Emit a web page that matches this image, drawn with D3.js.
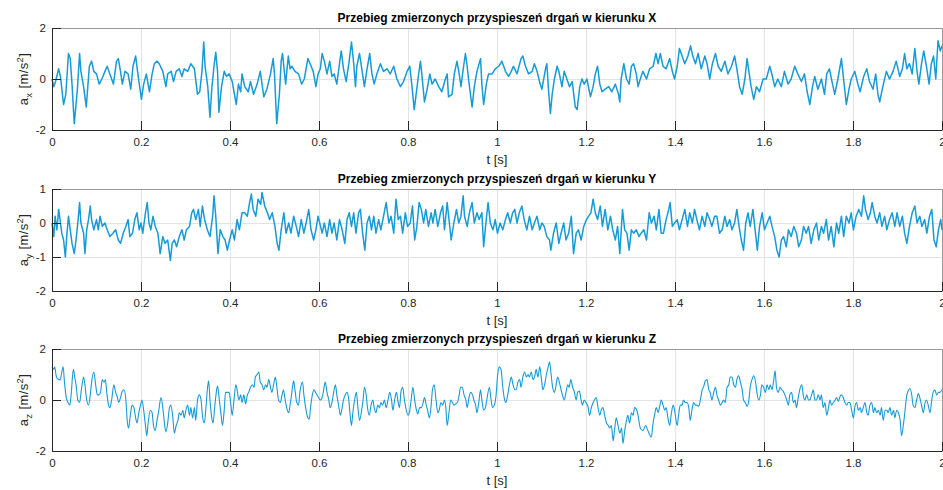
<!DOCTYPE html>
<html>
<head>
<meta charset="utf-8">
<script src="https://cdn.jsdelivr.net/npm/d3@7"></script>
<style>
  body { margin: 0; background: #fff; }
  svg { display: block; }
  text { font-family: "Liberation Sans", Arial, Helvetica, sans-serif; }
</style>
</head>
<body>
<svg id="chart" width="943" height="490"></svg>
<script>
// Measured vibration accelerations, [t in s, a in m/s^2]
const seriesX = [
[0,0.0],[0.004,-0.3],[0.008,-0.1],[0.015,0.4],[0.019,0.1],[0.026,-1.0],[0.031,-0.6],[0.037,1.0],[0.041,0.8],[0.045,-0.2],
[0.050,-1.75],[0.054,-1.0],[0.057,-0.4],[0.062,1.0],[0.065,0.3],[0.071,-0.3],[0.077,-1.1],[0.080,-0.4],[0.084,0.5],[0.089,0.7],
[0.094,0.3],[0.100,0.2],[0.106,-0.2],[0.112,0.0],[0.119,0.3],[0.124,0.5],[0.130,0.2],[0.138,-0.2],[0.145,0.7],[0.149,0.8],
[0.154,0.3],[0.158,-0.2],[0.164,0.3],[0.171,0.2],[0.177,-0.4],[0.182,0.5],[0.188,0.9],[0.193,0.2],[0.201,-0.8],[0.206,-0.2],
[0.212,0.2],[0.219,-0.5],[0.225,0.2],[0.230,0.6],[0.236,0.7],[0.241,0.6],[0.249,0.3],[0.256,-0.3],[0.260,0.2],[0.268,0.3],
[0.273,-0.1],[0.279,0.3],[0.286,0.4],[0.292,0.1],[0.297,0.4],[0.305,0.3],[0.312,0.6],[0.320,0.4],[0.327,-0.6],[0.332,-0.5],
[0.337,0.3],[0.341,1.45],[0.344,0.5],[0.350,-0.3],[0.355,-1.5],[0.359,-0.4],[0.364,0.5],[0.368,1.05],[0.372,0.3],[0.375,-1.3],
[0.381,-0.3],[0.387,0.3],[0.392,0.1],[0.398,0.2],[0.405,-0.1],[0.414,-1.0],[0.419,-0.2],[0.424,-0.5],[0.427,0.2],[0.433,-0.3],
[0.441,-0.5],[0.446,-0.1],[0.453,-0.6],[0.461,-0.2],[0.468,0.3],[0.476,-0.7],[0.483,-0.4],[0.491,0.2],[0.497,0.8],[0.500,0.2],
[0.505,-1.75],[0.511,-0.6],[0.515,0.7],[0.518,1.0],[0.522,0.3],[0.525,-0.2],[0.531,0.9],[0.535,0.4],[0.539,0.5],[0.546,0.3],
[0.554,0.2],[0.561,-0.2],[0.567,0.0],[0.575,0.8],[0.580,0.6],[0.587,0.3],[0.593,-0.3],[0.598,0.2],[0.603,0.4],[0.607,1.0],
[0.612,0.7],[0.618,0.2],[0.624,0.7],[0.629,0.1],[0.634,0.2],[0.640,-0.2],[0.646,0.6],[0.650,1.1],[0.655,0.4],[0.661,-0.1],
[0.667,0.6],[0.673,1.45],[0.678,0.6],[0.682,-0.3],[0.685,0.5],[0.691,1.0],[0.697,0.3],[0.702,-0.3],[0.708,0.4],[0.714,1.0],
[0.719,0.2],[0.724,-0.2],[0.730,0.2],[0.738,0.6],[0.745,0.3],[0.753,0.4],[0.760,0.2],[0.768,0.5],[0.775,0.0],[0.783,-0.3],
[0.790,-0.1],[0.798,0.3],[0.804,0.5],[0.809,-0.3],[0.814,-1.2],[0.819,-0.5],[0.824,0.2],[0.828,0.7],[0.831,0.2],[0.837,-0.9],
[0.843,-0.4],[0.849,0.2],[0.854,-0.2],[0.861,0.0],[0.869,-0.3],[0.876,-0.5],[0.884,0.0],[0.888,0.2],[0.891,-0.7],[0.899,-0.6],
[0.904,0.2],[0.910,0.7],[0.915,0.2],[0.919,-0.3],[0.925,0.5],[0.929,1.0],[0.933,0.5],[0.936,0.0],[0.944,-1.1],[0.949,-0.3],
[0.955,0.3],[0.963,0.8],[0.966,-0.2],[0.970,-1.0],[0.976,-0.2],[0.981,0.2],[0.989,0.2],[0.996,0.4],[1.004,0.5],[1.011,0.7],
[1.019,0.3],[1.026,0.1],[1.032,0.3],[1.037,0.5],[1.045,0.2],[1.054,0.8],[1.058,0.9],[1.064,0.5],[1.071,0.2],[1.079,0.3],
[1.084,0.6],[1.090,0.3],[1.097,-0.2],[1.101,-0.4],[1.109,0.4],[1.112,0.6],[1.116,-0.5],[1.120,-1.35],[1.124,-0.6],[1.129,0.0],
[1.135,0.5],[1.139,0.3],[1.146,-0.3],[1.151,0.3],[1.157,0.0],[1.163,-0.3],[1.169,-0.1],[1.176,-1.1],[1.180,-1.2],[1.186,-0.3],
[1.191,0.0],[1.196,-0.2],[1.202,0.0],[1.210,-0.7],[1.216,-0.3],[1.221,0.2],[1.226,0.5],[1.231,-0.2],[1.236,-0.5],[1.243,-0.4],
[1.251,-0.3],[1.258,-0.5],[1.266,-0.2],[1.273,-0.6],[1.276,-0.9],[1.279,0.0],[1.285,0.6],[1.291,0.0],[1.297,-0.2],[1.302,0.5],
[1.307,0.6],[1.313,0.2],[1.317,-0.3],[1.322,0.0],[1.328,0.3],[1.336,0.0],[1.343,0.4],[1.351,0.5],[1.357,1.0],[1.362,0.6],
[1.367,1.0],[1.373,0.5],[1.380,0.4],[1.388,0.8],[1.394,0.3],[1.399,0.0],[1.405,0.5],[1.410,1.2],[1.416,0.9],[1.422,0.6],
[1.429,0.9],[1.435,1.3],[1.440,0.9],[1.446,0.6],[1.452,1.0],[1.459,0.4],[1.467,0.9],[1.472,0.6],[1.478,0.0],[1.484,0.6],
[1.491,1.0],[1.497,0.5],[1.504,0.3],[1.512,0.7],[1.519,0.2],[1.527,0.5],[1.534,0.9],[1.539,0.4],[1.545,-0.3],[1.551,-0.6],
[1.557,0.0],[1.562,0.8],[1.566,0.3],[1.571,-0.3],[1.577,-0.8],[1.583,-0.3],[1.590,-0.5],[1.598,0.0],[1.605,0.0],[1.613,0.5],
[1.619,0.1],[1.624,-0.3],[1.631,0.0],[1.639,-0.3],[1.646,0.3],[1.654,-0.2],[1.661,0.0],[1.669,0.5],[1.676,0.2],[1.684,-0.1],
[1.691,0.2],[1.697,-0.5],[1.703,-1.0],[1.709,-0.3],[1.714,0.1],[1.721,-0.4],[1.729,0.0],[1.736,-0.6],[1.741,0.2],[1.747,0.4],
[1.754,-0.2],[1.759,-0.6],[1.766,0.0],[1.774,0.8],[1.777,0.3],[1.785,-1.0],[1.791,-0.4],[1.796,0.0],[1.804,0.3],[1.811,-0.2],
[1.816,-0.5],[1.824,0.1],[1.831,0.4],[1.837,-0.1],[1.845,-0.4],[1.851,0.2],[1.856,-0.6],[1.860,-0.9],[1.867,-0.3],[1.875,0.3],
[1.882,0.0],[1.890,0.3],[1.897,0.7],[1.905,0.1],[1.911,0.4],[1.916,1.0],[1.921,0.4],[1.927,0.6],[1.933,0.2],[1.939,1.2],
[1.944,0.3],[1.948,-0.2],[1.954,0.6],[1.959,1.1],[1.965,0.5],[1.971,-0.2],[1.976,0.6],[1.981,0.9],[1.986,0.0],[1.991,1.5],
[1.996,1.1],[2.000,1.3]
];

const seriesY = [
[0,0.0],[0.004,-0.4],[0.007,0.2],[0.011,-0.2],[0.015,0.4],[0.019,0.0],[0.022,-0.3],[0.026,-0.5],[0.030,-1.0],[0.033,-0.4],
[0.037,0.2],[0.041,-0.2],[0.045,-0.6],[0.050,-0.9],[0.054,-0.5],[0.058,0.0],[0.062,0.6],[0.065,0.0],[0.071,-0.3],[0.074,-0.9],
[0.078,-0.2],[0.082,0.1],[0.086,0.5],[0.089,0.1],[0.094,-0.2],[0.100,0.1],[0.104,-0.2],[0.108,0.2],[0.113,-0.1],[0.119,0.0],
[0.124,-0.2],[0.130,-0.4],[0.137,-0.3],[0.143,-0.2],[0.149,-0.5],[0.154,-0.6],[0.160,-0.3],[0.166,-0.1],[0.171,0.1],[0.175,-0.4],
[0.181,-0.3],[0.186,0.1],[0.191,0.3],[0.196,-0.2],[0.200,0.0],[0.204,-0.3],[0.210,0.3],[0.214,0.6],[0.218,0.0],[0.222,-0.2],
[0.227,0.2],[0.232,-0.1],[0.238,-0.3],[0.243,-0.9],[0.249,-0.4],[0.254,-0.6],[0.260,-0.5],[0.266,-1.1],[0.270,-0.6],[0.275,-0.5],
[0.280,-0.7],[0.286,-0.4],[0.292,-0.2],[0.297,-0.5],[0.302,-0.2],[0.309,-0.1],[0.314,0.3],[0.318,0.4],[0.323,0.1],[0.329,0.4],
[0.333,-0.1],[0.338,0.5],[0.343,0.1],[0.349,-0.2],[0.355,-0.4],[0.361,0.2],[0.364,0.8],[0.368,0.2],[0.373,-0.9],[0.378,-0.2],
[0.384,-0.4],[0.389,-0.5],[0.394,-0.8],[0.399,-0.5],[0.405,-0.2],[0.410,-0.5],[0.416,0.1],[0.421,-0.2],[0.427,0.3],[0.433,0.3],
[0.439,0.2],[0.444,0.6],[0.448,0.85],[0.452,0.4],[0.458,0.2],[0.463,0.7],[0.469,0.55],[0.472,0.9],[0.478,0.5],[0.484,0.3],
[0.489,0.1],[0.495,0.3],[0.501,-0.1],[0.506,-0.6],[0.510,-0.8],[0.515,-0.2],[0.521,0.3],[0.526,-0.3],[0.532,0.0],[0.537,-0.3],
[0.543,0.2],[0.549,-0.1],[0.554,-0.4],[0.560,0.1],[0.566,-0.3],[0.571,0.0],[0.577,0.4],[0.582,-0.2],[0.588,-0.5],[0.593,-0.2],
[0.598,0.2],[0.607,-0.3],[0.612,0.0],[0.618,-0.4],[0.624,0.1],[0.629,-0.3],[0.634,0.0],[0.640,-0.5],[0.646,0.1],[0.652,-0.2],
[0.658,-0.6],[0.663,0.1],[0.668,0.3],[0.673,-0.1],[0.678,0.3],[0.683,-0.3],[0.689,0.3],[0.693,0.4],[0.698,-0.3],[0.703,-0.8],
[0.708,0.0],[0.713,0.2],[0.718,-0.2],[0.723,0.2],[0.728,-0.3],[0.734,0.1],[0.739,-0.2],[0.745,0.2],[0.751,0.6],[0.757,0.0],
[0.762,0.2],[0.768,-0.3],[0.773,0.7],[0.778,0.1],[0.783,0.2],[0.788,-0.3],[0.794,0.3],[0.799,-0.1],[0.805,0.0],[0.810,0.5],
[0.815,-0.5],[0.820,-0.1],[0.825,0.6],[0.830,0.4],[0.835,0.0],[0.840,0.4],[0.846,-0.1],[0.852,0.3],[0.856,0.0],[0.861,0.4],
[0.867,-0.1],[0.873,0.3],[0.878,0.5],[0.882,-0.2],[0.888,0.6],[0.893,0.0],[0.897,-0.5],[0.903,0.0],[0.909,0.4],[0.914,0.0],
[0.919,0.2],[0.924,0.8],[0.927,0.2],[0.933,-0.1],[0.938,0.3],[0.944,0.6],[0.949,0.0],[0.955,0.3],[0.960,0.1],[0.966,0.3],
[0.970,-0.7],[0.975,0.0],[0.980,0.6],[0.985,0.0],[0.991,-0.2],[0.996,0.1],[1.001,-0.3],[1.007,0.0],[1.013,-0.2],[1.019,0.1],
[1.024,0.3],[1.030,0.0],[1.035,0.3],[1.040,0.4],[1.045,0.0],[1.050,0.3],[1.056,0.5],[1.061,0.1],[1.067,-0.2],[1.073,0.2],
[1.079,-0.2],[1.084,0.0],[1.090,0.2],[1.096,-0.2],[1.101,0.0],[1.106,-0.1],[1.112,-0.4],[1.118,-0.5],[1.121,-0.8],[1.127,-0.3],
[1.133,0.0],[1.139,-0.6],[1.144,-0.3],[1.150,0.0],[1.155,-0.5],[1.161,-0.3],[1.167,0.2],[1.172,-0.9],[1.178,-0.3],[1.183,-0.2],
[1.189,-0.5],[1.195,-0.1],[1.201,0.1],[1.206,0.2],[1.211,0.3],[1.216,0.7],[1.221,0.3],[1.226,0.1],[1.232,0.5],[1.237,-0.1],
[1.243,0.4],[1.249,-0.2],[1.255,0.2],[1.260,-0.2],[1.266,-0.5],[1.271,-0.1],[1.276,-0.9],[1.282,0.4],[1.287,-0.2],[1.292,-0.3],
[1.297,-0.8],[1.302,-0.2],[1.307,-0.3],[1.313,-0.2],[1.319,-0.4],[1.324,-0.3],[1.330,-0.2],[1.336,-0.5],[1.342,0.3],[1.347,0.0],
[1.353,0.2],[1.358,-0.2],[1.364,0.4],[1.369,-0.3],[1.374,-0.3],[1.380,0.1],[1.386,0.4],[1.389,0.6],[1.394,-0.1],[1.399,0.0],
[1.405,0.1],[1.410,-0.2],[1.416,0.1],[1.422,0.4],[1.428,-0.1],[1.433,0.3],[1.439,0.0],[1.444,0.4],[1.449,0.1],[1.455,-0.2],
[1.461,0.2],[1.467,-0.1],[1.472,0.3],[1.478,0.1],[1.483,-0.1],[1.489,0.2],[1.494,0.2],[1.500,-0.3],[1.506,-0.2],[1.512,0.2],
[1.517,-0.1],[1.523,0.1],[1.528,-0.2],[1.534,0.0],[1.539,0.4],[1.544,-0.1],[1.549,-0.5],[1.554,-0.8],[1.559,0.0],[1.564,0.3],
[1.569,-0.1],[1.575,0.4],[1.580,-0.2],[1.585,-0.8],[1.590,-0.1],[1.596,0.3],[1.601,-0.2],[1.607,0.0],[1.613,0.2],[1.618,-0.1],
[1.624,-0.4],[1.629,-0.8],[1.634,-1.0],[1.639,-0.5],[1.644,-0.4],[1.650,-0.7],[1.655,-0.2],[1.661,-0.4],[1.667,-0.1],[1.673,-0.3],
[1.678,-0.7],[1.684,-0.5],[1.689,-0.1],[1.695,-0.3],[1.700,-0.1],[1.706,-0.6],[1.712,-0.2],[1.718,0.0],[1.723,-0.5],[1.729,-0.1],
[1.734,-0.3],[1.740,0.1],[1.745,-0.5],[1.751,-0.1],[1.757,-0.7],[1.763,0.0],[1.768,-0.3],[1.774,0.2],[1.779,-0.4],[1.785,0.2],
[1.791,0.0],[1.796,0.3],[1.801,-0.2],[1.807,0.2],[1.813,0.4],[1.819,0.2],[1.824,0.8],[1.828,0.4],[1.834,0.1],[1.839,0.3],
[1.843,0.6],[1.849,0.2],[1.854,0.0],[1.860,0.3],[1.865,-0.1],[1.871,0.2],[1.876,-0.2],[1.882,0.1],[1.888,0.3],[1.894,-0.1],
[1.899,0.3],[1.905,-0.1],[1.911,0.2],[1.916,-0.3],[1.921,-0.6],[1.927,-0.1],[1.933,0.3],[1.939,0.5],[1.944,0.0],[1.950,0.2],
[1.955,-0.1],[1.961,0.1],[1.966,-0.3],[1.972,0.2],[1.977,0.4],[1.982,-0.5],[1.987,-0.7],[1.992,-0.2],[1.997,0.1],[2.000,-0.2]
];

const seriesZ = [
[0,1.3],[0.004,1.2],[0.006,1.3],[0.010,0.9],[0.015,0.8],[0.019,0.8],[0.021,1.0],[0.025,1.3],[0.028,0.7],[0.032,0.1],
[0.036,-0.1],[0.040,-0.2],[0.043,0.2],[0.048,1.2],[0.051,0.9],[0.054,0.6],[0.058,0.0],[0.062,-0.1],[0.066,0.4],[0.071,0.9],
[0.074,0.6],[0.078,0.0],[0.082,-0.2],[0.086,0.2],[0.089,0.7],[0.094,1.1],[0.098,0.6],[0.102,0.2],[0.105,0.2],[0.109,0.3],
[0.113,0.8],[0.117,0.7],[0.120,0.8],[0.123,0.3],[0.126,-0.1],[0.130,-0.3],[0.134,0.0],[0.139,0.6],[0.143,0.3],[0.147,0.1],
[0.150,-0.1],[0.154,0.1],[0.158,0.35],[0.162,0.4],[0.166,0.0],[0.169,-0.8],[0.172,-1.1],[0.176,-0.6],[0.180,-0.2],[0.184,-0.3],
[0.187,-0.6],[0.191,-0.9],[0.195,-0.5],[0.199,-0.2],[0.202,0.0],[0.206,-0.4],[0.210,-1.0],[0.213,-1.4],[0.216,-0.9],[0.221,-0.4],
[0.225,-0.5],[0.228,-1.0],[0.232,-1.2],[0.236,-0.8],[0.240,-0.4],[0.245,0.1],[0.249,-0.3],[0.252,-0.8],[0.256,-1.25],[0.260,-0.9],
[0.264,-0.3],[0.267,-0.2],[0.271,-0.6],[0.275,-1.3],[0.279,-1.0],[0.283,-0.8],[0.286,-0.5],[0.290,-0.6],[0.294,-0.4],[0.297,-0.7],
[0.301,-0.4],[0.305,-0.2],[0.309,-0.6],[0.312,-0.3],[0.316,-0.7],[0.320,-0.3],[0.323,-0.8],[0.327,0.0],[0.331,0.2],[0.335,0.0],
[0.338,-0.6],[0.342,-0.9],[0.346,-0.3],[0.349,0.4],[0.352,0.75],[0.355,0.0],[0.359,-0.7],[0.362,-0.9],[0.366,-0.2],[0.370,0.4],
[0.372,0.55],[0.376,0.0],[0.380,-0.6],[0.383,-1.0],[0.387,-0.4],[0.390,0.3],[0.394,0.3],[0.398,0.3],[0.402,-0.2],[0.405,-0.6],
[0.409,0.0],[0.413,0.6],[0.416,0.4],[0.420,0.0],[0.424,0.2],[0.427,-0.1],[0.431,0.2],[0.435,-0.15],[0.439,0.2],[0.442,0.3],
[0.446,0.5],[0.450,0.6],[0.454,0.5],[0.457,0.9],[0.461,1.0],[0.465,1.1],[0.468,0.7],[0.472,0.6],[0.476,0.4],[0.480,0.6],
[0.483,0.5],[0.487,0.8],[0.491,0.5],[0.494,0.3],[0.498,0.6],[0.502,0.9],[0.506,0.4],[0.509,0.0],[0.513,-0.1],[0.517,0.2],
[0.520,0.4],[0.524,0.0],[0.528,-0.35],[0.532,-0.5],[0.535,-0.2],[0.539,0.3],[0.543,0.75],[0.546,0.4],[0.550,-0.1],[0.554,-0.2],
[0.557,0.3],[0.563,0.7],[0.566,0.2],[0.570,-0.3],[0.575,-0.7],[0.578,-0.75],[0.581,-0.3],[0.585,0.2],[0.589,0.4],[0.592,0.3],
[0.599,0.1],[0.603,0.0],[0.607,0.1],[0.610,0.35],[0.614,0.7],[0.618,0.3],[0.622,0.0],[0.625,-0.3],[0.629,-0.1],[0.633,0.3],
[0.637,0.6],[0.640,0.2],[0.644,-0.2],[0.648,-0.6],[0.652,-0.3],[0.655,0.0],[0.659,0.2],[0.663,0.3],[0.667,0.0],[0.670,-0.6],
[0.673,-1.0],[0.676,-0.5],[0.680,0.0],[0.684,0.3],[0.687,-0.2],[0.691,-0.8],[0.695,-0.5],[0.699,0.0],[0.702,0.5],[0.706,0.2],
[0.709,-0.3],[0.713,-0.6],[0.717,-0.2],[0.721,0.0],[0.724,-0.3],[0.728,-0.5],[0.732,-0.2],[0.736,-0.3],[0.739,-0.1],[0.743,-0.2],
[0.747,0.0],[0.751,-0.3],[0.755,0.0],[0.759,0.3],[0.763,0.0],[0.766,-0.4],[0.770,0.0],[0.774,0.3],[0.778,-0.1],[0.781,-0.3],
[0.784,0.3],[0.788,0.5],[0.792,0.0],[0.795,-0.3],[0.800,-0.6],[0.804,-0.4],[0.807,0.0],[0.811,0.5],[0.815,0.0],[0.819,-0.4],
[0.822,-0.55],[0.826,-0.3],[0.830,-0.3],[0.834,-0.1],[0.837,0.1],[0.841,-0.2],[0.844,-0.4],[0.848,-0.7],[0.852,-0.2],[0.855,0.4],
[0.859,0.6],[0.863,0.0],[0.867,-0.5],[0.870,-0.4],[0.874,-0.1],[0.878,-0.2],[0.882,0.0],[0.885,-0.3],[0.888,-1.0],[0.892,-0.5],
[0.896,0.0],[0.900,-0.1],[0.903,-0.2],[0.907,-0.15],[0.911,-0.1],[0.915,0.2],[0.918,0.5],[0.922,0.5],[0.926,0.2],[0.930,0.0],
[0.933,-0.3],[0.937,0.1],[0.941,0.3],[0.945,0.2],[0.948,0.0],[0.952,-0.2],[0.955,-0.5],[0.959,-0.1],[0.963,0.4],[0.966,0.0],
[0.970,-0.4],[0.974,-0.3],[0.977,0.0],[0.983,0.5],[0.986,0.1],[0.990,-0.3],[0.994,-0.2],[0.998,0.2],[1.001,0.9],[1.005,1.3],
[1.009,1.2],[1.013,0.5],[1.016,0.1],[1.020,-0.1],[1.024,0.2],[1.028,0.6],[1.032,0.9],[1.036,0.6],[1.040,0.4],[1.043,0.4],
[1.047,0.7],[1.051,0.8],[1.054,0.5],[1.058,0.9],[1.062,1.1],[1.066,0.9],[1.070,1.0],[1.073,0.9],[1.077,1.1],[1.081,0.8],
[1.085,0.95],[1.088,1.2],[1.092,0.9],[1.096,1.3],[1.100,0.8],[1.103,0.4],[1.107,0.6],[1.111,1.0],[1.115,1.3],[1.118,1.5],
[1.121,1.1],[1.125,0.5],[1.129,0.3],[1.133,0.6],[1.136,0.9],[1.140,0.7],[1.144,0.4],[1.147,0.2],[1.151,0.0],[1.155,0.3],
[1.159,0.6],[1.162,0.5],[1.166,0.8],[1.170,0.5],[1.174,0.3],[1.178,0.0],[1.181,0.3],[1.185,0.35],[1.189,0.0],[1.192,-0.2],
[1.196,0.0],[1.200,-0.1],[1.205,-0.3],[1.208,-0.6],[1.212,-0.3],[1.216,-0.1],[1.219,0.0],[1.223,0.1],[1.227,-0.3],[1.231,-0.6],
[1.234,-0.4],[1.238,-0.3],[1.242,-0.6],[1.246,-0.9],[1.250,-1.0],[1.253,-1.1],[1.257,-1.0],[1.261,-1.6],[1.264,-1.2],[1.268,-0.7],
[1.272,-1.0],[1.276,-1.3],[1.280,-1.1],[1.283,-1.7],[1.287,-1.2],[1.291,-0.8],[1.294,-0.6],[1.298,-0.9],[1.302,-0.5],[1.306,-0.6],
[1.309,-0.3],[1.313,-0.35],[1.317,-0.6],[1.322,-1.1],[1.328,-1.2],[1.334,-1.0],[1.339,-1.2],[1.347,-1.45],[1.350,-1.0],[1.354,-0.6],
[1.358,-0.3],[1.362,-0.5],[1.365,-0.3],[1.369,0.0],[1.373,-0.2],[1.377,-0.4],[1.380,-0.3],[1.384,-0.7],[1.388,-1.0],[1.392,-0.5],
[1.396,-0.2],[1.399,-0.4],[1.405,-1.0],[1.408,-0.6],[1.412,-0.2],[1.416,-0.2],[1.419,0.0],[1.423,-0.1],[1.427,-0.1],[1.431,-0.3],
[1.434,-0.8],[1.438,-0.4],[1.442,-0.1],[1.446,-0.2],[1.449,-0.2],[1.453,-0.25],[1.457,0.0],[1.461,0.4],[1.464,0.5],[1.468,0.75],
[1.472,0.8],[1.476,0.4],[1.479,0.3],[1.483,0.0],[1.487,0.3],[1.491,0.5],[1.494,0.2],[1.498,0.0],[1.502,-0.2],[1.506,-0.1],
[1.509,0.0],[1.513,-0.1],[1.517,0.5],[1.521,0.6],[1.524,0.9],[1.528,0.9],[1.532,0.6],[1.536,0.5],[1.539,0.8],[1.543,0.95],
[1.547,0.7],[1.551,0.4],[1.554,0.0],[1.558,-0.1],[1.562,-0.25],[1.566,0.0],[1.569,0.5],[1.573,0.8],[1.577,0.95],[1.581,0.7],
[1.584,0.3],[1.588,0.0],[1.592,0.2],[1.595,0.6],[1.599,0.5],[1.603,0.3],[1.607,0.6],[1.611,0.4],[1.614,0.6],[1.618,0.4],
[1.622,0.8],[1.625,1.15],[1.628,0.5],[1.632,0.3],[1.636,0.5],[1.640,0.4],[1.643,0.35],[1.647,0.2],[1.651,0.0],[1.655,-0.2],
[1.658,0.2],[1.662,0.3],[1.666,-0.1],[1.670,0.0],[1.673,-0.3],[1.677,0.1],[1.681,0.45],[1.685,0.6],[1.688,0.2],[1.692,0.0],
[1.696,0.2],[1.700,0.0],[1.703,0.0],[1.707,0.2],[1.711,0.4],[1.714,0.0],[1.718,0.0],[1.722,0.2],[1.726,0.0],[1.729,0.2],
[1.733,-0.3],[1.737,-0.1],[1.741,-0.6],[1.745,-0.3],[1.748,0.0],[1.752,-0.2],[1.756,-0.1],[1.760,0.0],[1.763,0.1],[1.767,-0.05],
[1.771,0.15],[1.774,0.2],[1.778,0.1],[1.782,-0.1],[1.786,-0.2],[1.789,-0.1],[1.793,-0.1],[1.797,-0.4],[1.801,-0.7],[1.804,-0.3],
[1.808,-0.1],[1.812,-0.4],[1.816,-0.3],[1.819,-0.5],[1.823,-0.3],[1.827,-0.1],[1.831,-0.5],[1.834,-0.6],[1.838,-0.2],[1.842,-0.1],
[1.846,-0.5],[1.849,-0.3],[1.853,-0.5],[1.857,-0.4],[1.861,-0.6],[1.864,-0.3],[1.868,-0.8],[1.872,-0.4],[1.876,-0.4],[1.879,-0.5],
[1.883,-0.3],[1.887,-0.6],[1.891,-0.4],[1.894,-0.7],[1.898,-0.4],[1.902,-0.5],[1.906,-0.8],[1.909,-1.4],[1.913,-1.0],[1.917,-0.4],
[1.921,0.2],[1.924,0.35],[1.928,0.45],[1.932,0.2],[1.935,-0.2],[1.939,-0.3],[1.943,0.0],[1.947,0.25],[1.950,0.1],[1.954,-0.2],
[1.958,-0.5],[1.962,-0.1],[1.965,0.0],[1.969,-0.2],[1.973,-0.5],[1.977,0.0],[1.980,0.3],[1.984,0.4],[1.988,0.2],[1.992,0.3],
[1.995,0.3],[2.000,0.4]
];

const xTicks = [0, 0.2, 0.4, 0.6, 0.8, 1, 1.2, 1.4, 1.6, 1.8, 2];
const yTicksX = [-2, 0, 2];
const yTicksY = [-2, -1, 0, 1];
const yTicksZ = [-2, 0, 2];
const titleBase = "Przebieg zmierzonych przyspiesze\u0144 drga\u0144 w kierunku ";
const axisNames = ["X", "Y", "Z"];
const subscripts = ["x", "y", "z"];

const panels = [
  { data: seriesX, yDomain: [-2, 2], yTicks: yTicksX, top: 28, width: 1.5, curve: d3.curveLinear },
  { data: seriesY, yDomain: [-2, 1], yTicks: yTicksY, top: 189, width: 1.5, curve: d3.curveLinear },
  { data: seriesZ, yDomain: [-2, 2], yTicks: yTicksZ, top: 349, width: 1.1, curve: d3.curveMonotoneX }
];

const svg = d3.select("#chart");
svg.append("rect").attr("width", 943).attr("height", 490).attr("fill", "#fff");

const left = 52, plotW = 890, plotH = 102;
const lineColor = "#169bd6", axisColor = "#262626", gridColor = "#e3e3e3";
const fontStack = "'Liberation Sans', Arial, sans-serif";
const x = d3.scaleLinear().domain([0, 2]).range([left, left + plotW]);

panels.forEach((p, i) => {
  const bottom = p.top + plotH;
  const y = d3.scaleLinear().domain(p.yDomain).range([bottom, p.top]);
  const g = svg.append("g");

  // grid
  g.append("g").selectAll("line").data(xTicks.slice(1, -1)).join("line")
    .attr("x1", d => Math.round(x(d)) + 0.5).attr("x2", d => Math.round(x(d)) + 0.5)
    .attr("y1", p.top).attr("y2", bottom)
    .attr("stroke", gridColor).attr("stroke-width", 1);
  g.append("g").selectAll("line").data(p.yTicks.filter(v => v > p.yDomain[0] && v < p.yDomain[1])).join("line")
    .attr("x1", left).attr("x2", left + plotW)
    .attr("y1", d => Math.round(y(d)) + 0.5).attr("y2", d => Math.round(y(d)) + 0.5)
    .attr("stroke", gridColor).attr("stroke-width", 1);

  // box top and right
  g.append("line").attr("x1", left).attr("x2", left + plotW).attr("y1", p.top + 0.5).attr("y2", p.top + 0.5)
    .attr("stroke", "#9a9a9a");
  g.append("line").attr("x1", left + plotW + 0.5).attr("x2", left + plotW + 0.5).attr("y1", p.top).attr("y2", bottom)
    .attr("stroke", "#9a9a9a");

  // signal
  const line = d3.line().x(d => x(d[0])).y(d => y(d[1])).curve(p.curve);
  g.append("path").datum(p.data).attr("d", line)
    .attr("fill", "none").attr("stroke", lineColor).attr("stroke-width", p.width)
    .attr("stroke-linejoin", "round");

  // axes
  const xAxis = d3.axisBottom(x).tickValues(xTicks).tickSize(-9).tickSizeOuter(0)
    .tickPadding(8).tickFormat(d3.format("~g"));
  const gx = g.append("g").attr("transform", `translate(0,${bottom})`).call(xAxis);
  const yAxis = d3.axisLeft(y).tickValues(p.yTicks).tickSize(-9).tickSizeOuter(0)
    .tickPadding(6).tickFormat(d => d < 0 ? "-" + Math.abs(d) : String(d));
  const gy = g.append("g").attr("transform", `translate(${left},0)`).call(yAxis);
  [gx, gy].forEach(a => {
    a.select(".domain").attr("stroke", axisColor);
    a.selectAll(".tick line").attr("stroke", axisColor);
    a.selectAll(".tick text").attr("fill", axisColor).attr("font-size", 11.5)
      .attr("font-family", fontStack);
  });

  // title
  g.append("text").attr("x", left + plotW / 2).attr("y", p.top - 6)
    .attr("text-anchor", "middle").attr("font-size", 12).attr("font-weight", "bold")
    .attr("fill", "#000").text(titleBase + axisNames[i]);

  // x label
  g.append("text").attr("x", left + plotW / 2).attr("y", bottom + 34)
    .attr("text-anchor", "middle").attr("font-size", 13).attr("fill", axisColor)
    .text("t [s]");

  // y label
  const yl = g.append("text")
    .attr("transform", `translate(28,${p.top + plotH / 2}) rotate(-90)`)
    .attr("text-anchor", "middle").attr("font-size", 13).attr("fill", axisColor)
    .attr("letter-spacing", 0.4);
  yl.append("tspan").text("a");
  yl.append("tspan").attr("font-size", 9.5).attr("dy", 4).text(subscripts[i]);
  yl.append("tspan").attr("dy", -4).text(" [m/s");
  yl.append("tspan").attr("font-size", 9.5).attr("dy", -5.5).text("2");
  yl.append("tspan").attr("dy", 5.5).text("]");
});
</script>
</body>
</html>
